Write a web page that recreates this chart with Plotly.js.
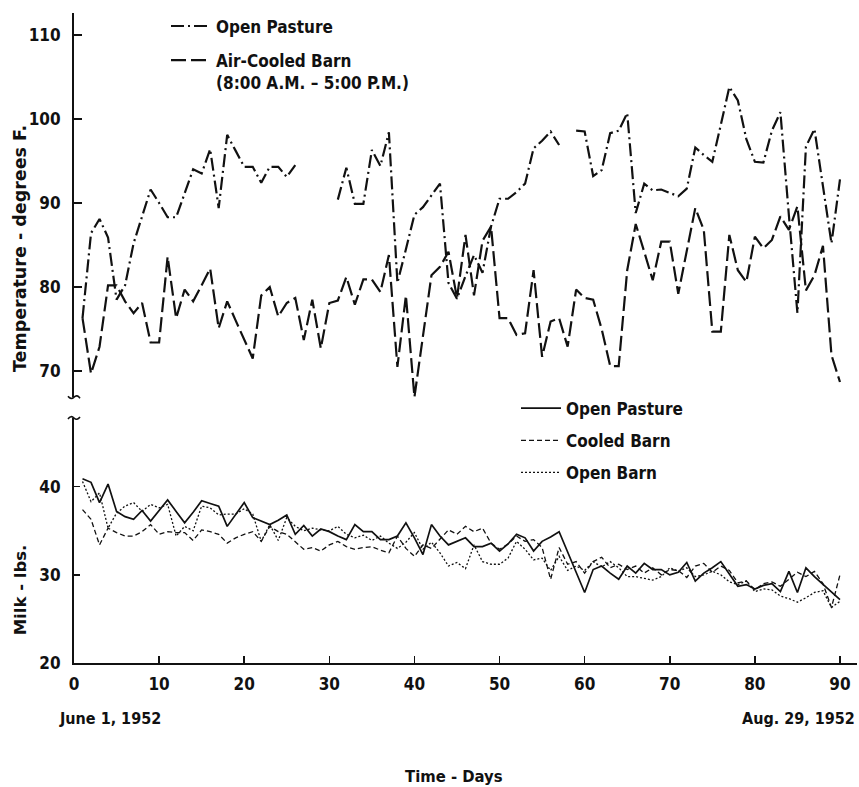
<!DOCTYPE html>
<html><head><meta charset="utf-8">
<script src="https://cdn.plot.ly/plotly-3.0.1.min.js"></script>
<style>html,body{margin:0;padding:0;background:#fff}#chart{width:859px;height:787px}</style>
</head><body><div id="chart"></div>
<script>
const days = [1,2,3,4,5,6,7,8,9,10,11,12,13,14,15,16,17,18,19,20,21,22,23,24,25,26,27,28,29,30,
 31,32,33,34,35,36,37,38,39,40,41,42,43,44,45,46,47,48,49,50,51,52,53,54,55,56,57,58,59,60,
 61,62,63,64,65,66,67,68,69,70,71,72,73,74,75,76,77,78,79,80,81,82,83,84,85,86,87,88,89,90];

const tempOpenPasture = [76.3, 86.4, 88.1, 85.9, 78.5, 80.2, 85.2, 88.4, 91.6, 90.0,
 88.3, 88.3, 91.2, 94.0, 93.5, 96.4, 89.4, 98.1, 96.2, 94.3,
 94.3, 92.4, 94.3, 94.3, 93.1, 94.5, null, null, null, null,
 90.4, 94.2, 89.9, 89.9, 96.3, 94.4, 98.4, 80.5, 84.5, 88.6,
 89.5, 90.9, 92.3, 80.5, 78.6, 81.3, 83.8, 81.7, 87.2, 90.5,
 90.5, 91.3, 92.3, 96.5, 97.4, 98.5, 96.9, null, 98.6, 98.5,
 93.2, 93.9, 98.3, 98.6, 100.7, 88.8, 92.3, 91.5, 91.6, 91.2,
 90.8, 91.7, 96.6, 95.7, 94.9, 99.3, 103.8, 102.2, 97.6, 94.9,
 94.8, 98.6, 100.8, 88.5, 76.9, 96.7, 98.8, 92.0, 85.2, 92.8];

const tempAirCooledBarn = [76.3, 69.7, 72.9, 80.2, 80.2, 78.3, 76.9, 78.1, 73.4, 73.4,
 83.6, 76.3, 79.7, 78.3, 80.2, 82.2, 75.1, 78.3, 76.0, 73.7,
 71.5, 79.0, 80.0, 76.5, 78.1, 78.7, 73.7, 78.5, 72.7, 78.1,
 78.4, 81.2, 77.9, 80.9, 80.9, 79.4, 83.8, 70.5, 79.0, 66.9,
 74.1, 81.4, 82.4, 84.2, 78.7, 86.2, 79.0, 85.5, 87.2, 76.3,
 76.3, 74.3, 74.5, 82.0, 71.7, 75.9, 76.3, 72.9, 79.7, 78.7,
 78.5, 75.0, 70.6, 70.6, 82.0, 87.5, 84.2, 80.8, 85.4, 85.4,
 79.2, 84.3, 89.4, 86.8, 74.7, 74.7, 86.2, 82.0, 80.6, 86.0,
 84.6, 85.6, 88.4, 86.8, 89.6, 79.6, 81.4, 84.9, 71.9, 68.7];

const milkOpenPasture = [40.9, 40.5, 38.2, 40.3, 37.2, 36.6, 36.3, 37.3, 36.1, 37.3,
 38.5, 37.2, 35.9, 37.1, 38.4, 38.1, 37.8, 35.5, 36.8, 38.2,
 36.5, 36.1, 35.7, 36.2, 36.8, 34.6, 35.6, 34.4, 35.2, 34.9,
 34.4, 34.0, 35.7, 34.9, 34.9, 34.0, 34.0, 34.4, 35.9, 34.2,
 32.3, 35.7, 34.4, 33.4, 33.8, 34.2, 33.2, 33.2, 33.6, 32.7,
 33.5, 34.6, 34.2, 32.7, 33.8, 34.3, 34.9, 32.6, 30.3, 28.0,
 30.6, 31.0, 30.2, 29.5, 31.0, 30.2, 31.3, 30.6, 30.6, 30.0,
 30.3, 31.4, 29.3, 30.2, 30.8, 31.5, 30.1, 28.7, 28.9, 28.4,
 28.8, 29.0, 28.1, 30.4, 28.0, 30.8, 29.8, 28.9, 28.0, 27.2];

const milkCooledBarn = [37.4, 36.3, 33.4, 35.3, 34.8, 34.4, 34.4, 34.9, 35.7, 34.6,
 34.9, 34.8, 34.8, 33.9, 35.1, 34.9, 34.6, 33.6, 34.2, 34.6,
 34.9, 33.8, 35.5, 34.9, 34.6, 33.8, 32.9, 33.1, 32.7, 33.4,
 33.8, 33.2, 32.9, 33.1, 33.2, 32.8, 32.5, 34.4, 33.0, 32.1,
 33.4, 33.0, 34.0, 35.1, 34.6, 35.5, 34.9, 35.3, 33.6, 32.9,
 33.5, 34.4, 33.8, 34.0, 33.1, 29.5, 33.1, 31.2, 31.5, 30.2,
 31.5, 32.0, 30.8, 31.2, 30.6, 31.0, 30.2, 30.8, 30.0, 30.6,
 30.5, 29.7, 31.0, 31.3, 30.3, 31.0, 30.5, 29.1, 29.3, 28.3,
 29.0, 29.2, 28.7, 29.5, 30.3, 29.8, 30.4, 29.0, 26.3, 30.0];

const milkOpenBarn = [40.6, 38.3, 39.3, 35.3, 37.0, 37.8, 38.2, 37.2, 38.0, 37.6,
 38.0, 34.4, 35.5, 35.0, 37.8, 37.6, 36.8, 36.9, 36.9, 37.5,
 36.9, 33.8, 35.7, 33.9, 36.5, 35.5, 35.0, 35.3, 35.1, 35.0,
 35.5, 34.6, 34.2, 34.5, 33.9, 34.4, 33.6, 33.0, 33.7, 34.8,
 32.9, 33.7, 32.5, 31.0, 31.4, 30.7, 33.4, 31.5, 31.2, 31.2,
 31.9, 33.8, 32.9, 31.7, 31.9, 30.5, 32.1, 30.5, 31.0, 30.5,
 31.5, 30.9, 31.5, 30.8, 29.8, 29.8, 29.6, 29.4, 29.8, 30.8,
 30.4, 30.8, 29.8, 30.0, 30.4, 30.0, 29.2, 28.9, 29.3, 28.1,
 28.4, 28.3, 27.6, 27.3, 26.9, 27.4, 28.0, 28.2, 26.3, 27.0];

const xTicks = [0,10,20,30,40,50,60,70,80,90];
const tempTicks = [70,80,90,100,110];
const milkTicks = [20,30,40];

const FONT = '"DejaVu Sans Condensed", "Liberation Sans Narrow", "Roboto Condensed", "DejaVu Sans", sans-serif';
const FONT_WIDE = '"DejaVu Sans", "Liberation Sans", sans-serif';
const INK = '#111';
const txt = (size, fam) => ({family: fam || FONT, size: size, color: INK, weight: 'bold'});

const traces = [
  {x: days, y: tempOpenPasture, xaxis:'x', yaxis:'y', mode:'lines', name:'Open Pasture',
   line:{color:INK, width:2.2, dash:'13px,4px,2px,4px'}, connectgaps:false, legend:'legend', legendgroup:'a'},
  {x: days, y: tempAirCooledBarn, xaxis:'x', yaxis:'y', mode:'lines', name:'Air-Cooled Barn<br>(8:00 A.M. – 5:00 P.M.)',
   line:{color:INK, width:2.2, dash:'15px,5px'}, legend:'legend', legendgroup:'b'},
  {x: days, y: milkOpenPasture, xaxis:'x', yaxis:'y2', mode:'lines', name:'Open Pasture',
   line:{color:INK, width:1.7}, legend:'legend2', legendgroup:'c'},
  {x: days, y: milkCooledBarn, xaxis:'x', yaxis:'y2', mode:'lines', name:'Cooled Barn',
   line:{color:INK, width:1.3, dash:'5px,3px'}, legend:'legend2', legendgroup:'d'},
  {x: days, y: milkOpenBarn, xaxis:'x', yaxis:'y2', mode:'lines', name:'Open Barn',
   line:{color:INK, width:1.3, dash:'2px,2px'}, legend:'legend2', legendgroup:'e'}
];

const axFont = txt(17);

const layout = {
  width: 859, height: 787,
  margin: {l: 74, r: 2, t: 13, b: 124},
  paper_bgcolor: '#fff', plot_bgcolor: '#fff',
  font: {family: FONT, color: INK},
  showlegend: true,
  xaxis: {range:[0, 92], tickvals: xTicks, ticks:'inside', ticklen:7, tickwidth:1.5, tickcolor:INK,
          showline:true, linewidth:2, linecolor:INK, showgrid:false, zeroline:false, anchor:'y2',
          tickfont: axFont, ticklabelstandoff: 5},
  yaxis: {domain:[0.409, 1], range:[66.9, 112.6], tickvals: tempTicks, ticks:'inside', ticklen:8, tickwidth:1.5,
          tickcolor:INK, showline:true, linewidth:2, linecolor:INK, showgrid:false, zeroline:false, anchor:'x',
          tickfont: axFont, ticklabelstandoff: 8},
  yaxis2: {domain:[0, 0.377], range:[20, 47.8], tickvals: milkTicks, ticks:'inside', ticklen:6, tickwidth:1.5,
          tickcolor:INK, showline:true, linewidth:2, linecolor:INK, showgrid:false, zeroline:false, anchor:'x',
          tickfont: axFont, ticklabelstandoff: 8},
  legend: {x: 0.1175, y: 1.007, xanchor:'left', yanchor:'top', bgcolor:'rgba(0,0,0,0)',
           font: txt(17), tracegroupgap: 9, valign:'top', itemwidth: 40},
  legend2: {x: 0.5645, y: 0.419, xanchor:'left', yanchor:'top', bgcolor:'rgba(0,0,0,0)',
           font: txt(17), tracegroupgap: 7, itemwidth: 40},
  annotations: [
    {text:'Temperature - degrees F.', xref:'paper', yref:'paper', x:-0.068, y:0.638, textangle:-90,
     showarrow:false, font: txt(17.5, FONT_WIDE), xanchor:'center', yanchor:'middle'},
    {text:'Milk - lbs.', xref:'paper', yref:'paper', x:-0.068, y:0.113, textangle:-90,
     showarrow:false, font: txt(16.5, FONT_WIDE), xanchor:'center', yanchor:'middle'},
    {text:'June 1, 1952', xref:'paper', yref:'paper', x:-0.022, y:-0.085, showarrow:false,
     xanchor:'left', yanchor:'middle', font: txt(16)},
    {text:'Aug. 29, 1952', xref:'paper', yref:'paper', x:1.0, y:-0.085, showarrow:false,
     xanchor:'right', yanchor:'middle', font: txt(16)},
    {text:'Time - Days', xref:'paper', yref:'paper', x:0.485, y:-0.175, showarrow:false,
     xanchor:'center', yanchor:'middle', font: txt(16.5)}
  ],
  shapes: [
    {type:'path', xref:'paper', yref:'paper', xsizemode:'pixel', ysizemode:'pixel', xanchor:0, yanchor:0.409,
     path:'M -6,1 Q -3,-3 0,0 T 6,-1', line:{color:INK, width:1.6}},
    {type:'path', xref:'paper', yref:'paper', xsizemode:'pixel', ysizemode:'pixel', xanchor:0, yanchor:0.377,
     path:'M -6,-1 Q -3,3 0,0 T 6,1', line:{color:INK, width:1.6}}
  ]
};

Plotly.newPlot('chart', traces, layout, {displayModeBar:false, staticPlot:true});
</script>
</body></html>
